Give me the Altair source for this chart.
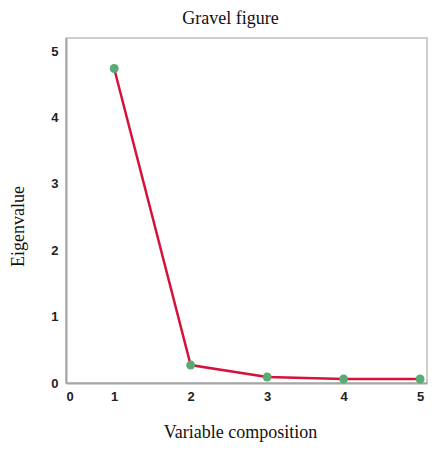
import altair as alt
import pandas as pd

components = [1, 2, 3, 4, 5]
eigenvalues = [4.74, 0.27, 0.09, 0.06, 0.06]

df = pd.DataFrame({"component": components, "eigenvalue": eigenvalues})

x_scale = alt.Scale(domain=[0.37, 5.09], nice=False, zero=False)
y_scale = alt.Scale(domain=[0, 5.2], nice=False)

x_axis = alt.Axis(
    values=[0.37, 1, 2, 3, 4, 5],
    labelExpr="datum.value < 0.5 ? '0' : datum.label",
    grid=False, ticks=False,
    domainColor="#a6a6a6", domainWidth=2,
    labelFont="Liberation Sans", labelFontSize=13, labelFontWeight="bold",
    labelColor="#222222", labelPadding=7,
    title="Variable composition",
    titleFont="Liberation Serif", titleFontSize=18, titleFontWeight="normal",
    titleColor="#111111", titleX=174, titleY=40, titleBaseline="top",
)
y_axis = alt.Axis(
    values=[0, 1, 2, 3, 4, 5],
    grid=False, ticks=False,
    domainColor="#a6a6a6", domainWidth=2,
    labelFont="Liberation Sans", labelFontSize=13, labelFontWeight="bold",
    labelColor="#222222", labelPadding=8,
    title="Eigenvalue",
    titleFont="Liberation Serif", titleFontSize=18, titleFontWeight="normal",
    titleColor="#111111", titleAngle=270, titleX=-48, titleY=188,
    titleBaseline="middle", titleAlign="center",
)

base = alt.Chart(df).encode(
    x=alt.X("component:Q", scale=x_scale, axis=x_axis),
    y=alt.Y("eigenvalue:Q", scale=y_scale, axis=y_axis),
)

line = base.mark_line(color="#d4123c", strokeWidth=2.5)
points = base.mark_circle(color="#5aab73", size=80, opacity=1)

chart = (line + points).properties(
    width=361,
    height=345,
    title=alt.TitleParams(
        "Gravel figure", font="Liberation Serif", fontSize=18,
        fontWeight="normal", color="#111111", anchor="middle", dx=-16, offset=10,
    ),
    autosize=alt.AutoSizeParams(type="none"),
    padding={"left": 58, "top": 30, "right": 4, "bottom": 60},
).configure_view(stroke="#bdbdbd", strokeWidth=1.5)

chart.save("out.html", embed_options={"renderer": "svg", "actions": False})
